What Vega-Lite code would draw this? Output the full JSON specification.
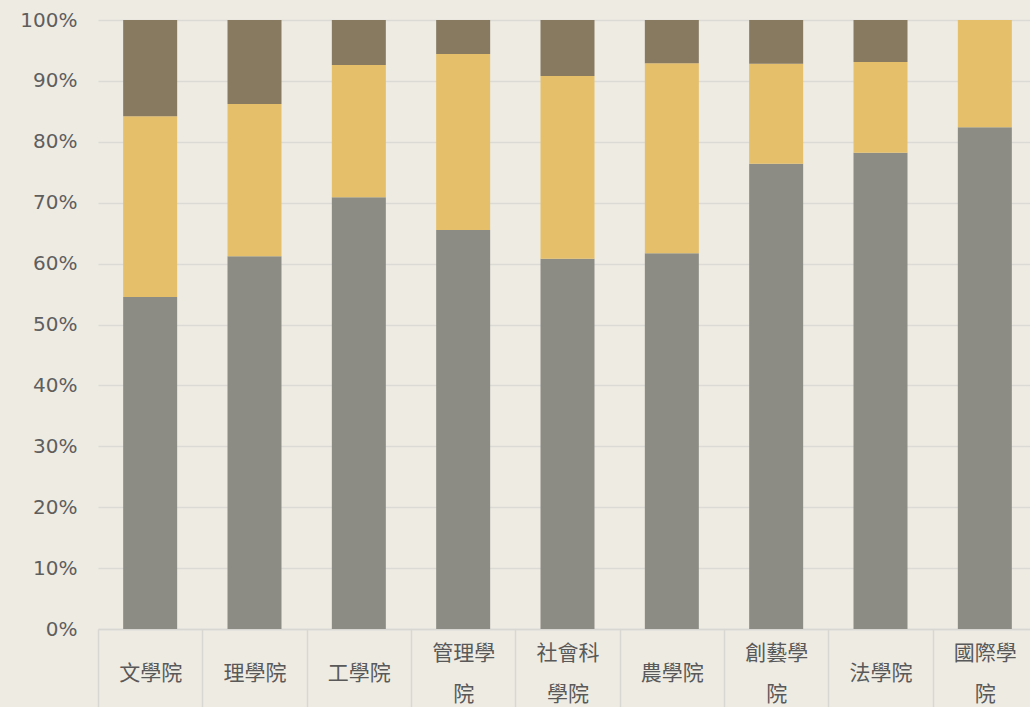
{
  "$schema": "https://vega.github.io/schema/vega-lite/v6.json",
  "autosize": "none",
  "width": 932,
  "height": 609,
  "padding": {"left": 98, "top": 20, "right": 0, "bottom": 78},
  "background": "#EEEBE3",
  "config": {"view": {"stroke": null}},
  "data": {
    "values": [
      {"college": "文學院", "series": "A", "order": 1, "value": 54.5},
      {"college": "文學院", "series": "B", "order": 2, "value": 29.7},
      {"college": "文學院", "series": "C", "order": 3, "value": 15.8},
      {"college": "理學院", "series": "A", "order": 1, "value": 61.2},
      {"college": "理學院", "series": "B", "order": 2, "value": 25.0},
      {"college": "理學院", "series": "C", "order": 3, "value": 13.8},
      {"college": "工學院", "series": "A", "order": 1, "value": 70.9},
      {"college": "工學院", "series": "B", "order": 2, "value": 21.7},
      {"college": "工學院", "series": "C", "order": 3, "value": 7.4},
      {"college": "管理學院", "series": "A", "order": 1, "value": 65.5},
      {"college": "管理學院", "series": "B", "order": 2, "value": 28.9},
      {"college": "管理學院", "series": "C", "order": 3, "value": 5.6},
      {"college": "社會科學院", "series": "A", "order": 1, "value": 60.8},
      {"college": "社會科學院", "series": "B", "order": 2, "value": 30.0},
      {"college": "社會科學院", "series": "C", "order": 3, "value": 9.2},
      {"college": "農學院", "series": "A", "order": 1, "value": 61.7},
      {"college": "農學院", "series": "B", "order": 2, "value": 31.2},
      {"college": "農學院", "series": "C", "order": 3, "value": 7.1},
      {"college": "創藝學院", "series": "A", "order": 1, "value": 76.4},
      {"college": "創藝學院", "series": "B", "order": 2, "value": 16.4},
      {"college": "創藝學院", "series": "C", "order": 3, "value": 7.2},
      {"college": "法學院", "series": "A", "order": 1, "value": 78.2},
      {"college": "法學院", "series": "B", "order": 2, "value": 14.9},
      {"college": "法學院", "series": "C", "order": 3, "value": 6.9},
      {"college": "國際學院", "series": "A", "order": 1, "value": 82.4},
      {"college": "國際學院", "series": "B", "order": 2, "value": 17.6},
      {"college": "國際學院", "series": "C", "order": 3, "value": 0}
    ]
  },
  "mark": {"type": "bar", "size": 54},
  "encoding": {
    "x": {
      "field": "college",
      "type": "nominal",
      "sort": null,
      "scale": {"range": [0, 939], "paddingInner": 0, "paddingOuter": 0},
      "axis": {
        "title": null,
        "labelAngle": 0,
        "labelFont": "Noto Sans CJK TC",
        "labelFontSize": 21,
        "labelColor": "#595959",
        "labelBaseline": "middle",
        "labelPadding": -54,
        "labelLineHeight": 20.5,
        "labelExpr": "length(datum.label) > 3 ? [substring(datum.label, 0, 3), '\u200b', substring(datum.label, 3)] : ['\u200b', datum.label]",
        "tickBand": "extent",
        "tickSize": 78,
        "tickColor": "#D9D7D2",
        "tickWidth": 1.5,
        "domainColor": "#D9D7D2",
        "domainWidth": 1.5,
        "labelOverlap": false,
        "labelLimit": 0
      }
    },
    "y": {
      "field": "value",
      "type": "quantitative",
      "stack": "normalize",
      "scale": {"domain": [0, 1], "nice": false},
      "axis": {
        "title": null,
        "format": ".0%",
        "values": [0, 0.1, 0.2, 0.3, 0.4, 0.5, 0.6, 0.7, 0.8, 0.9, 1],
        "domain": false,
        "ticks": false,
        "labelFont": "DejaVu Sans",
        "labelFontSize": 20,
        "labelColor": "#5E5E5E",
        "labelPadding": 21,
        "gridColor": "#DCDAD5",
        "gridWidth": 1.5
      }
    },
    "color": {
      "field": "series",
      "type": "nominal",
      "scale": {"domain": ["A", "B", "C"], "range": ["#8C8C85", "#E5BF69", "#877A60"]},
      "legend": null
    },
    "order": {"field": "order", "type": "quantitative"}
  }
}
